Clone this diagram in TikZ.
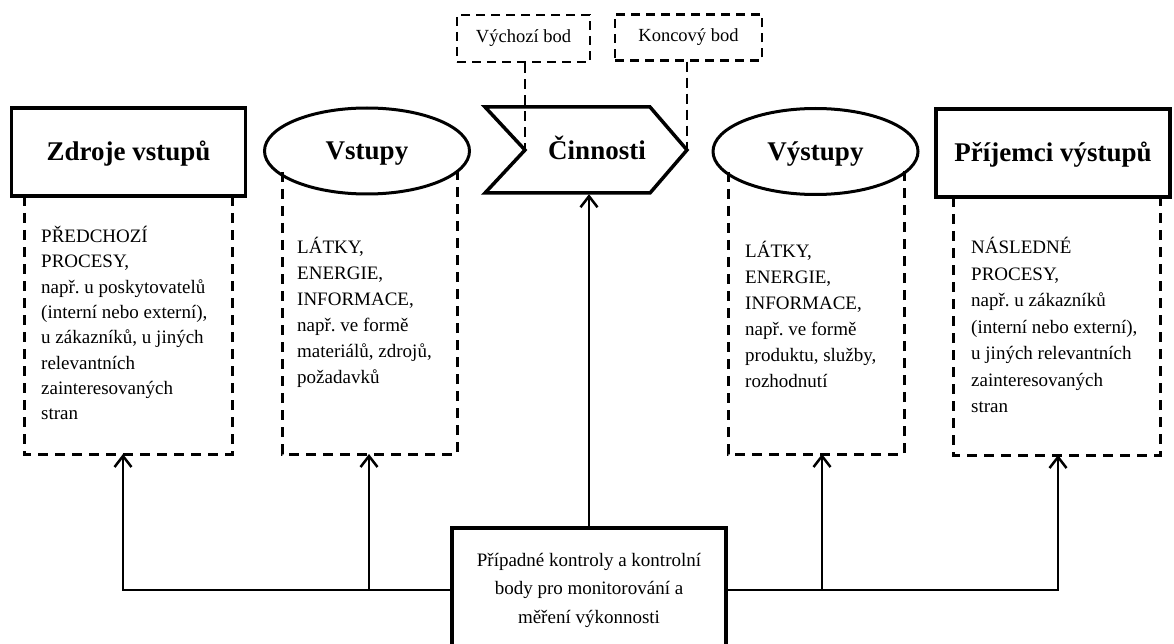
\documentclass[tikz,border=0pt]{standalone}
\usepackage{fontspec}
\setmainfont{Liberation Serif}
\usetikzlibrary{arrows.meta,positioning,shapes.geometric}
\frenchspacing

\begin{document}
\begin{tikzpicture}[
      x=1pt, y=-1pt,
      title/.style={font=\fontsize{27}{32}\selectfont\bfseries, text height=18pt, text depth=0pt},
      headbox/.style={draw, line width=3.5pt, minimum width=234pt, minimum height=88pt, title},
      headoval/.style={ellipse, draw, line width=3pt, minimum width=205pt, minimum height=86pt, title},
      dashbox/.style={line width=3pt, dash pattern=on 10pt off 7pt},
      bodytext/.style={anchor=north west, inner sep=0pt, align=left, font=\fontsize{19}{26}\selectfont},
      tagbox/.style={draw, line width=2.5pt, dash pattern=on 9pt off 6pt, font=\fontsize{18.5}{22}\selectfont},
      tagline/.style={line width=2.5pt, dash pattern=on 10pt off 6pt},
      conn/.style={line width=2.5pt},
      arrow/.style={conn, -{Straight Barb[length=11pt,width=17pt]}}
  ]
    \clip (0,0) rectangle (1174,644);

    \node[headbox] (src) at (128.5,152) {Zdroje vstupů};
    \node[headoval] (in) at (367,151) {Vstupy};
    \node[headoval] (out) at (815.5,151.5) {Výstupy};
    \node[headbox] (rcv) at (1053,153) {Příjemci výstupů};

    \coordinate (notch) at (525,150);
    \coordinate (tip) at (687,150);
    \draw[line width=3.5pt] (485,107) -- (650,107) -- (tip) -- (650,193) -- (485,193) -- (notch) -- cycle;
    \node[title, minimum width=190pt, minimum height=86pt] (act) at (597,151) {Činnosti};

    \node[tagbox, minimum width=133pt, minimum height=47pt] (start) at (523.5,38.5) {Výchozí bod};
    \node[tagbox, minimum width=147pt, minimum height=46pt] (stop) at (688.5,37.5) {Koncový bod};
    \draw[tagline] (start.south -| notch) -- (notch);
    \draw[tagline] (stop.south -| tip) -- (tip);

    \draw[dashbox] (24,196) |- (232,454) -- (232,196);
    \draw[dashbox] (282,172) |- (457,454) -- (457,170);
    \draw[dashbox] (728,172) |- (904,454) -- (904,171);
    \draw[dashbox] (953,197) |- (1160,455) -- (1160,197);

    \node[bodytext, font=\fontsize{19}{25.3}\selectfont] (srctext) at (41,226) {PŘEDCHOZÍ\\PROCESY,\\např. u poskytovatelů\\(interní nebo externí),\\u zákazníků, u jiných\\relevantních\\zainteresovaných\\stran};
    \node[bodytext] (intext) at (297,237) {LÁTKY,\\ENERGIE,\\INFORMACE,\\např. ve formě\\materiálů, zdrojů,\\požadavků};
    \node[bodytext] (outtext) at (745,241) {LÁTKY,\\ENERGIE,\\INFORMACE,\\např. ve formě\\produktu, služby,\\rozhodnutí};
    \node[bodytext, font=\fontsize{19}{26.5}\selectfont] (rcvtext) at (971,237) {NÁSLEDNÉ\\PROCESY,\\např. u zákazníků\\(interní nebo externí),\\u jiných relevantních\\zainteresovaných\\stran};

    \coordinate (srcfoot) at (123,454);
    \coordinate (infoot) at (369,454);
    \coordinate (outfoot) at (822,454);
    \coordinate (rcvfoot) at (1058,455);

    \node[draw, line width=3.5pt, minimum width=274pt, minimum height=124pt, align=center,
          font=\fontsize{19}{28.5}\selectfont] (ctl) at (589,590)
          {Případné kontroly a kontrolní\\body pro monitorování a\\měření výkonnosti};

    \draw[arrow] (ctl.west) -| (srcfoot);
    \draw[arrow] (ctl.west) -| (infoot);
    \draw[arrow] (ctl.east) -| (outfoot);
    \draw[arrow] (ctl.east) -| (rcvfoot);
    \draw[arrow] (ctl.north) -- (ctl.north |- act.south);
  \end{tikzpicture}
\end{document}
